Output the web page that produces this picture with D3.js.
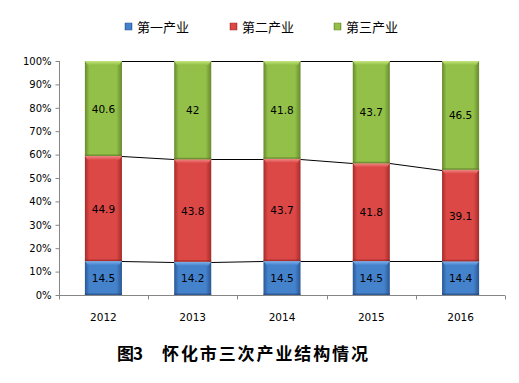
<!DOCTYPE html>
<html><head><meta charset="utf-8">
<script src="https://cdn.jsdelivr.net/npm/d3@7"></script>
<style>body{margin:0;background:#fff}svg{display:block}</style>
</head><body>
<svg id="c" width="519" height="383"></svg>
<script>
const years = ["2012","2013","2014","2015","2016"];
const seriesNames = ["第一产业","第二产业","第三产业"];
const primary = [14.5,14.2,14.5,14.5,14.4];
const secondary = [44.9,43.8,43.7,41.8,39.1];
const tertiary = [40.6,42,41.8,43.7,46.5];
const yTicks = [0,10,20,30,40,50,60,70,80,90,100];
const title1 = "图3", title2 = "怀化市三次产业结构情况";

const palette = [
  {mid:"#4582cc", edge:"#2a5794", top:"#7fb2ec", dark:"#22457a"},
  {mid:"#dc4846", edge:"#a42c2a", top:"#f08886", dark:"#8a2220"},
  {mid:"#92c048", edge:"#68892e", top:"#c4e57c", dark:"#587528"}
];

const svg = d3.select("#c");
const defs = svg.append("defs");
palette.forEach((p,i)=>{
  const g = defs.append("linearGradient").attr("id","g"+i).attr("x1","0").attr("x2","1").attr("y1","0").attr("y2","0");
  g.append("stop").attr("offset","0").attr("stop-color",p.edge);
  g.append("stop").attr("offset","0.12").attr("stop-color",p.mid);
  g.append("stop").attr("offset","0.85").attr("stop-color",p.mid);
  g.append("stop").attr("offset","1").attr("stop-color",p.edge);
  const t = defs.append("linearGradient").attr("id","t"+i).attr("x1","0").attr("x2","0").attr("y1","0").attr("y2","1");
  t.append("stop").attr("offset","0").attr("stop-color",p.top);
  t.append("stop").attr("offset","1").attr("stop-color",p.mid);
});

const pLeft = 59, pRight = 505, pTop = 61, pBottom = 295;
const x = d3.scaleBand().domain(years).range([pLeft,pRight]).paddingInner(0.585).paddingOuter(0.29);
const y = d3.scaleLinear().domain([0,100]).range([pBottom,pTop]);

const table = years.map((yr,i)=>({year:yr, a:primary[i], b:secondary[i], c:tertiary[i]}));
const stack = d3.stack().keys(["a","b","c"])(table);

// connector lines
stack.forEach(layer=>{
  for(let i=0;i<years.length-1;i++){
    svg.append("line")
      .attr("x1", x(years[i])+x.bandwidth()).attr("x2", x(years[i+1]))
      .attr("y1", Math.round(y(layer[i][1]))+0.5).attr("y2", Math.round(y(layer[i+1][1]))+0.5)
      .attr("stroke","#000").attr("stroke-width",1);
  }
});

// bars
stack.forEach((layer,si)=>{
  const g = svg.append("g");
  layer.forEach((d,i)=>{
    const x0 = x(years[i]), w = x.bandwidth();
    const y0 = y(d[1]), h = y(d[0]) - y(d[1]);
    g.append("rect").attr("x",x0).attr("y",y0).attr("width",w).attr("height",h).attr("fill","url(#g"+si+")");
    g.append("path").attr("d",`M${x0},${y0}L${x0+w},${y0}L${x0+w-3},${y0+4}L${x0+3},${y0+4}Z`).attr("fill","url(#t"+si+")");
    g.append("rect").attr("x",x0).attr("y",y0+h-1.5).attr("width",w).attr("height",1.5).attr("fill",palette[si].dark).attr("opacity",0.6);
    g.append("text").attr("x",x0+w/2).attr("y",y0+h/2+4)
      .attr("text-anchor","middle").attr("font-family","DejaVu Sans").attr("font-size",10.5).attr("fill","#000")
      .text(d.data[["a","b","c"][si]]);
  });
});

// y axis
const yAxis = svg.append("g").attr("transform",`translate(${pLeft+0.5},0)`)
  .call(d3.axisLeft(y).tickValues(yTicks).tickSize(4).tickFormat(d=>d+"%"));
yAxis.selectAll("path,line").attr("stroke","#868686");
yAxis.select(".domain").attr("d",`M0,${pTop}V${pBottom}`);
yAxis.selectAll("text").attr("font-family","DejaVu Sans").attr("font-size",10).attr("fill","#000").attr("dx",-1);

// x axis
const xa = svg.append("g").attr("transform",`translate(0,${pBottom+0.5})`);
xa.append("line").attr("x1",pLeft).attr("x2",pRight).attr("stroke","#868686");
const bounds = d3.range(years.length+1).map(i=> i<years.length ? x(years[i]) - x.step()*x.paddingInner()/2 - (i===0 ? x.step()*(x.paddingOuter()-x.paddingInner()/2) : 0) : pRight);
bounds.forEach(b=>xa.append("line").attr("x1",Math.round(b)+0.5).attr("x2",Math.round(b)+0.5).attr("y1",0).attr("y2",4).attr("stroke","#868686"));
years.forEach(yr=>xa.append("text").attr("x",x(yr)+x.bandwidth()/2).attr("y",25)
  .attr("text-anchor","middle").attr("font-family","DejaVu Sans").attr("font-size",10.5).text(yr));

// legend
const lx = [125,230,334];
seriesNames.forEach((n,i)=>{
  svg.append("rect").attr("x",lx[i]).attr("y",23).attr("width",7).attr("height",7).attr("fill","url(#g"+i+")").attr("stroke",palette[i].edge).attr("stroke-width",0.5);
  svg.append("text").attr("x",lx[i]+12).attr("y",31.5).attr("font-family","Noto Sans CJK SC").attr("font-size",13).attr("fill","#000").text(n);
});

// title
svg.append("text").attr("x",117).attr("y",360).attr("font-family","Noto Sans CJK SC").attr("font-weight","bold").attr("font-size",17)
  .attr("textLength",26).attr("lengthAdjust","spacing").text(title1);
svg.append("text").attr("x",162).attr("y",360).attr("font-family","Noto Sans CJK SC").attr("font-weight","bold").attr("font-size",17)
  .attr("textLength",206).attr("lengthAdjust","spacing").text(title2);
</script>
</body></html>
